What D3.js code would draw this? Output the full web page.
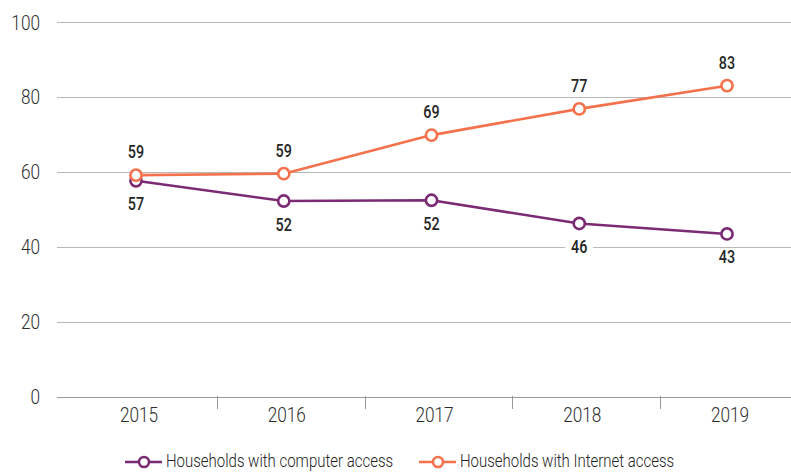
<!DOCTYPE html>
<html>
<head>
<meta charset="utf-8">
<script src="https://cdn.jsdelivr.net/npm/d3@7"></script>
<style>
  body { margin: 0; background: #fff; }
  svg { display: block; }
  text { font-family: Roboto, "Noto Sans", sans-serif; }
</style>
</head>
<body>
<svg id="chart" width="791" height="472"></svg>
<script>
const years = ["2015", "2016", "2017", "2018", "2019"];
const computerValues = [57.6, 52.2, 52.4, 46.2, 43.4];
const internetValues = [59.1, 59.5, 69.8, 76.8, 83.0];
const computerLabels = ["57", "52", "52", "46", "43"];
const internetLabels = ["59", "59", "69", "77", "83"];
const yTicks = [0, 20, 40, 60, 80, 100];
const seriesNames = ["Households with computer access", "Households with Internet access"];
const colors = ["#7b2a74", "#f4714c"];

const svg = d3.select("#chart");
const W = 791;
const SX = 0.82; // horizontal condensing of text

const y = d3.scaleLinear().domain([0, 100]).range([396.5, 22]);
const x = d3.scalePoint().domain(years).range([136, 727]);

function condText(sel, tx, ty, sx) {
  return sel.append("text")
    .attr("transform", `translate(${tx},${ty}) scale(${sx},1)`)
    .attr("x", 0).attr("y", 0);
}

// gridlines
svg.append("g").selectAll("line").data(yTicks).join("line")
  .attr("x1", 57).attr("x2", W)
  .attr("y1", d => Math.round(y(d)) + 0.5).attr("y2", d => Math.round(y(d)) + 0.5)
  .attr("stroke", d => d === 0 ? "#9a9a9a" : "#b8b8b8")
  .attr("stroke-width", 1);

// y labels
const gy = svg.append("g");
yTicks.forEach(v => {
  condText(gy, 40, y(v) + 7.5, SX)
    .attr("text-anchor", "end")
    .attr("font-size", 21).attr("font-weight", 300).attr("fill", "#2e2e2e")
    .text(v);
});

// x axis separators and labels
const sep = years.slice(0, -1);
svg.append("g").selectAll("line").data(sep).join("line")
  .attr("x1", d => Math.round(x(d) + x.step() / 2 + 7) + 0.5)
  .attr("x2", d => Math.round(x(d) + x.step() / 2 + 7) + 0.5)
  .attr("y1", 396).attr("y2", 409)
  .attr("stroke", "#9a9a9a").attr("stroke-width", 1);

const gx = svg.append("g");
years.forEach(yr => {
  condText(gx, x(yr) + 3, 421.5, SX)
    .attr("text-anchor", "middle")
    .attr("font-size", 21).attr("font-weight", 300).attr("fill", "#2e2e2e")
    .text(yr);
});

// lines
const series = [
  { name: seriesNames[0], values: computerValues, labels: computerLabels, color: colors[0], above: false },
  { name: seriesNames[1], values: internetValues, labels: internetLabels, color: colors[1], above: true }
];

const line = d3.line().x((d, i) => x(years[i])).y(d => y(d));

series.forEach(s => {
  svg.append("path")
    .datum(s.values)
    .attr("d", line)
    .attr("fill", "none")
    .attr("stroke", s.color)
    .attr("stroke-width", 2.6)
    .attr("stroke-linejoin", "round");
});

series.forEach(s => {
  svg.append("g").selectAll("circle").data(s.values).join("circle")
    .attr("cx", (d, i) => x(years[i]))
    .attr("cy", d => y(d))
    .attr("r", 5.6)
    .attr("fill", "#fff")
    .attr("stroke", s.color)
    .attr("stroke-width", 2.6);
});

// data labels with white background
series.forEach(s => {
  const g = svg.append("g");
  s.values.forEach((v, i) => {
    const lx = x(years[i]);
    const ly = s.above ? y(v) - 17 : y(v) + 29.5;
    const lg = g.append("g");
    const rect = lg.append("rect").attr("fill", "#fff");
    condText(lg, lx, ly, SX)
      .attr("text-anchor", "middle")
      .attr("font-size", 17.5).attr("font-weight", 500)
      .attr("fill", "#262626")
      .text(s.labels[i]);
    const w = 28;
    rect.attr("x", lx - w / 2).attr("y", ly - 13).attr("width", w).attr("height", 14);
  });
});

// legend
const legend = svg.append("g");
const legendItems = [
  { x0: 125, name: seriesNames[0], color: colors[0] },
  { x0: 419, name: seriesNames[1], color: colors[1] }
];
legendItems.forEach(it => {
  const ly = 462;
  legend.append("line").attr("x1", it.x0).attr("x2", it.x0 + 37)
    .attr("y1", ly).attr("y2", ly).attr("stroke", it.color).attr("stroke-width", 2.6);
  legend.append("circle").attr("cx", it.x0 + 19).attr("cy", ly).attr("r", 5)
    .attr("fill", "#fff").attr("stroke", it.color).attr("stroke-width", 2.6);
  condText(legend, it.x0 + 41, ly + 4.5, 0.81)
    .attr("font-size", 18.5).attr("font-weight", 300).attr("fill", "#222")
    .text(it.name);
});
</script>
</body>
</html>
